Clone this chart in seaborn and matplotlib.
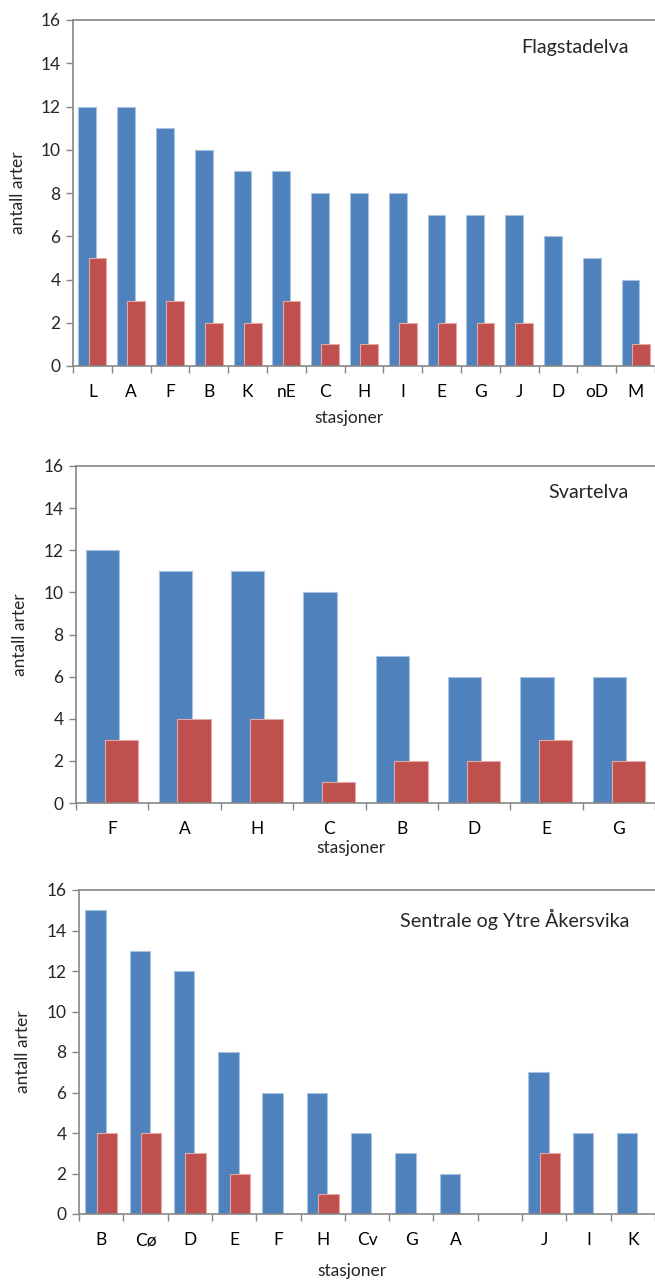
import numpy as np
import pandas as pd
import matplotlib
matplotlib.use("Agg")
import matplotlib.pyplot as plt
import seaborn as sns

# ---- data ----
flag_stations = ["L", "A", "F", "B", "K", "nE", "C", "H", "I", "E", "G", "J", "D", "oD", "M"]
flag_blue = [12, 12, 11, 10, 9, 9, 8, 8, 8, 7, 7, 7, 6, 5, 4]
flag_red = [5, 3, 3, 2, 2, 3, 1, 1, 2, 2, 2, 2, 0, 0, 1]

svart_stations = ["F", "A", "H", "C", "B", "D", "E", "G"]
svart_blue = [12, 11, 11, 10, 7, 6, 6, 6]
svart_red = [3, 4, 4, 1, 2, 2, 3, 2]

aker_stations = ["B", "Cø", "D", "E", "F", "H", "Cv", "G", "A", " ", "J", "I", "K"]
aker_blue = [15, 13, 12, 8, 6, 6, 4, 3, 2, np.nan, 7, 4, 4]
aker_red = [4, 4, 3, 2, 0, 1, 0, 0, 0, np.nan, 3, 0, 0]

titles = ["Flagstadelva", "Svartelva", "Sentrale og Ytre Åkersvika"]
yticks = [0, 2, 4, 6, 8, 10, 12, 14, 16]

BLUE = "#4F81BD"
RED = "#C0504D"
SPINE = "#868686"

sns.set_style("ticks")
plt.rcParams["font.family"] = ["Lato", "DejaVu Sans"]

W, H = 655, 1280
fig = plt.figure(figsize=(W / 100, H / 100), dpi=100)

# panel geometry in pixels: left, top, bottom, ylabel x, xlabel y, title y
panels = [
    (flag_stations, flag_blue, flag_red, (73, 20, 366), 18, 418, 48),
    (svart_stations, svart_blue, svart_red, (76, 466, 803), 20, 848, 493),
    (aker_stations, aker_blue, aker_red, (79, 890, 1214), 23, 1271, 919),
]

FS = 12.5
for (stations, blue, red, (l, t, b), ylx, xly, ty), title in zip(panels, titles):
    ax = fig.add_axes([l / W, 1 - b / H, 1 - l / W, (b - t) / H])
    n = len(stations)
    k0 = len(ax.patches)
    sns.barplot(x=stations, y=blue, order=stations, color=BLUE, width=0.46,
                saturation=1, edgecolor="#A9C2E0", linewidth=0.8, ax=ax)
    k1 = len(ax.patches)
    for p in ax.patches[k0:k1]:
        p.set_x(p.get_x() - 0.13)
    sns.barplot(x=stations, y=red, order=stations, color=RED, width=0.46,
                saturation=1, edgecolor="#E3A9A7", linewidth=0.8, ax=ax)
    for p in ax.patches[k1:]:
        p.set_x(p.get_x() + 0.13)
        if p.get_height() == 0:
            p.set_linewidth(0)

    ax.set_xlim(-0.5, n - 0.5)
    ax.set_ylim(0, 16)
    ax.set_yticks(yticks)
    ax.set_xticks(range(n))
    ax.set_xticklabels(stations)
    ax.set_xticks(np.arange(-0.5, n, 1.0), minor=True)
    ax.tick_params(axis="x", which="major", length=0, pad=13, labelsize=FS, colors="black")
    ax.tick_params(axis="x", which="minor", length=5, width=1, color=SPINE, direction="out")
    ax.tick_params(axis="y", length=5, width=1, color=SPINE, direction="out", labelsize=FS, pad=4)

    for side in ["left", "bottom", "top"]:
        ax.spines[side].set_visible(True)
        ax.spines[side].set_color(SPINE)
        ax.spines[side].set_linewidth(1.2)
    ax.spines["right"].set_visible(False)

    ax.set_xlabel("")
    ax.set_ylabel("")
    fig.text(ylx / W, 1 - ((t + b) / 2) / H, "antall arter", rotation=90,
             ha="center", va="center", fontsize=FS)
    fig.text(((l + W) / 2 - 15) / W, 1 - xly / H, "stasjoner",
             ha="center", va="center", fontsize=FS)
    fig.text(629 / W, 1 - ty / H, title, ha="right", va="center", fontsize=14.2)

fig.savefig("out.png", dpi=100, facecolor="white")
